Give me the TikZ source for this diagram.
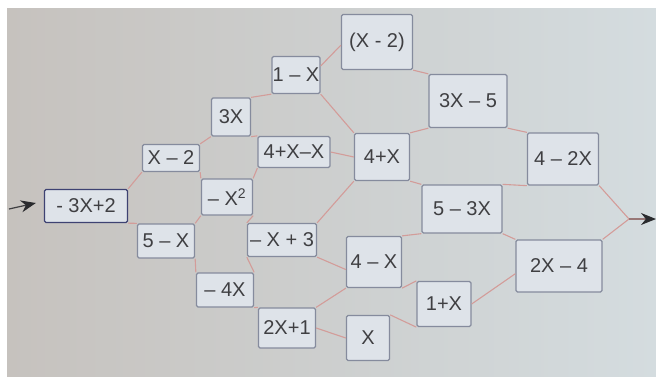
\documentclass[tikz,border=0pt]{standalone}
\usepackage{fontspec}
\setmainfont{Liberation Sans}
\usetikzlibrary{arrows.meta}
\definecolor{boxline}{HTML}{858B9D}
\definecolor{boxfill}{HTML}{DEE3E9}
\definecolor{firstline}{HTML}{3E4272}
\definecolor{wire}{HTML}{D39C99}
\definecolor{ink}{HTML}{3F3F42}
\definecolor{tipc}{HTML}{2A2B2E}
\definecolor{bgleft}{HTML}{C6C2BE}
\definecolor{bgmid}{HTML}{E0E1DF}
\definecolor{bgright}{HTML}{D4DCDF}
\tikzset{
  termbox/.style={draw=boxline, fill=boxfill, line width=1.3pt, rounded corners=1.5pt,
    text=ink, font=\fontsize{20}{22}\selectfont, inner sep=0pt, anchor=center},
  wire/.style={draw=wire, line width=1.1pt},
  flow/.style={line width=1.2pt, -{Stealth[length=15pt,width=12pt,color=tipc]}}
}
\begin{document}
\begin{tikzpicture}[x=1pt,y=-1pt]
\useasboundingbox (0,0) rectangle (656,376);
\fill[white] (0,0) rectangle (656,376);
\shade[left color=bgleft, middle color=bgmid, right color=bgright] (7,8) rectangle (656,376);

% nodes
\node[termbox, draw=firstline, minimum width=83pt, minimum height=33pt] (A) at (86,206) {- 3X+2};
\node[termbox, minimum width=57pt, minimum height=27pt] (B) at (171,158) {X – 2};
\node[termbox, minimum width=57pt, minimum height=34pt] (C) at (166,241) {5 – X};
\node[termbox, minimum width=39pt, minimum height=38pt] (D) at (231,117) {3X};
\node[termbox, minimum width=51pt, minimum height=36pt] (E) at (227,197) {– X\textsuperscript{2}};
\node[termbox, minimum width=48pt, minimum height=37pt] (F) at (296,75) {1 – X};
\node[termbox, minimum width=72pt, minimum height=31pt] (G) at (294,152) {4+X–X};
\node[termbox, minimum width=69pt, minimum height=33pt] (H) at (282,240) {– X + 3};
\node[termbox, minimum width=57pt, minimum height=34pt] (I) at (225,290) {– 4X};
\node[termbox, minimum width=57pt, minimum height=40pt] (J) at (287,328) {2X+1};
\node[termbox, minimum width=43pt, minimum height=45pt] (K) at (368,338) {X};
\node[termbox, minimum width=55pt, minimum height=51pt] (L) at (374,262) {4 – X};
\node[termbox, minimum width=71pt, minimum height=55pt] (M) at (377,42) {(X - 2)};
\node[termbox, minimum width=78pt, minimum height=53pt] (N) at (468,101) {3X – 5};
\node[termbox, minimum width=55pt, minimum height=47pt] (O) at (382,157) {4+X};
\node[termbox, minimum width=80pt, minimum height=48pt] (P) at (462,209) {5 – 3X};
\node[termbox, minimum width=54pt, minimum height=45pt] (Q) at (444,304) {1+X};
\node[termbox, minimum width=86pt, minimum height=52pt] (R) at (559,266) {2X – 4};
\node[termbox, minimum width=71pt, minimum height=52pt] (S) at (563,159) {4 – 2X};

\coordinate (in) at (9,209);
\coordinate (join) at (629,219);
\coordinate (out) at (656,219);

% connectors
\draw[wire] (A.north east) -- (B.south west);
\draw[wire] (A.south east) -- (C.north west);
\draw[wire] (B.north east) -- (D.south west);
\draw[wire] (B.south east) -- (E.north west);
\draw[wire] (C.north east) -- (E.south west);
\draw[wire] (C.south east) -- (I.north west);
\draw[wire] (D.north east) -- (F.south west);
\draw[wire] (D.south east) -- (G.north west);
\draw[wire] (E.north east) -- (G.south west);
\draw[wire] (E.south east) -- (H.north west);
\draw[wire] (I.north east) -- (H.south west);
\draw[wire] (I.south east) -- (J.north west);
\draw[wire] (F.20) -- (M.185);
\draw[wire] (F.south east) -- (O.north west);
\draw[wire] (G.east) -- (O.west);
\draw[wire] (H.north east) -- (O.south west);
\draw[wire] (H.south east) -- (L.195);
\draw[wire] (J.north east) -- (L.south west);
\draw[wire] (J.east) -- (K.west);
\draw[wire] (M.south east) -- (N.north west);
\draw[wire] (O.north east) -- (N.south west);
\draw[wire] (O.south east) -- (P.north west);
\draw[wire] (L.north east) -- (P.south west);
\draw[wire] (L.south east) -- (Q.north west);
\draw[wire] (K.north east) -- (Q.south west);
\draw[wire] (N.south east) -- (S.north west);
\draw[wire] (P.north east) -- (S.south west);
\draw[wire] (P.south east) -- (R.north west);
\draw[wire] (Q.east) -- (R.190);
\draw[wire] (S.south east) -- (join);
\draw[wire] (R.north east) -- (join);

\draw[flow, draw=ink] (in) -- ([xshift=-8pt,yshift=3pt]A.west);
\draw[flow, draw=wire!60!ink] (join) -- (out);
\end{tikzpicture}
\end{document}
